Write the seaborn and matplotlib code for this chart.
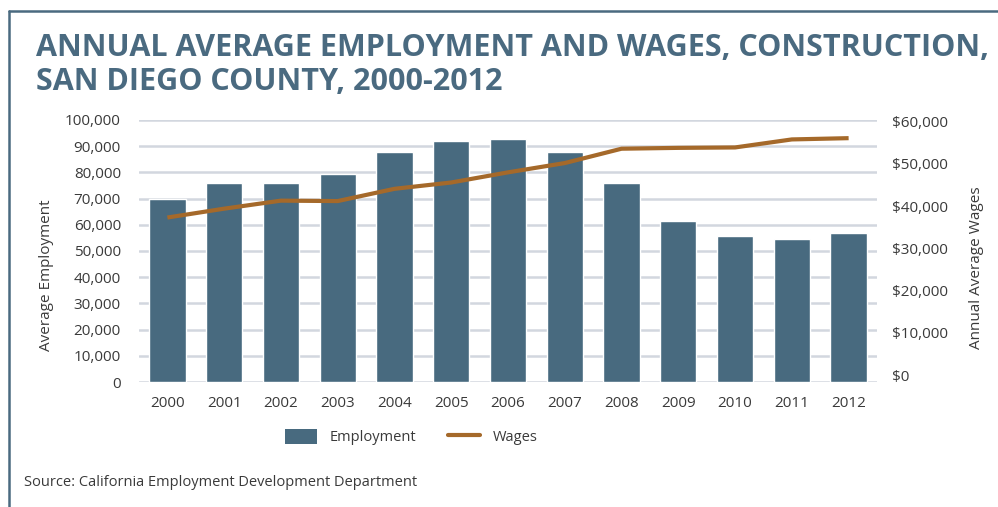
import numpy as np
import pandas as pd
import seaborn as sns
import matplotlib.pyplot as plt
from matplotlib.patches import Patch
from matplotlib.lines import Line2D
from matplotlib.ticker import FuncFormatter, MultipleLocator

# Annual averages, construction sector, San Diego County
years = list(range(2000, 2013))
employment = [70000, 76000, 76000, 79300, 87900, 91800, 92900,
              87900, 76000, 61400, 55700, 54500, 56700]
wages = [37300, 39400, 41300, 41200, 44100, 45600, 48000,
         50200, 53600, 53800, 53900, 55800, 56100]

title_lines = ["ANNUAL AVERAGE EMPLOYMENT AND WAGES, CONSTRUCTION,",
               "SAN DIEGO COUNTY, 2000-2012"]
left_label = "Average Employment"
right_label = "Annual Average Wages"
source_note = "Source: California Employment Development Department"

BAR = "#486a7f"
WAGE = "#a5692a"
GRID = "#d2d7df"
TITLE = "#4a6a80"
TXT = "#3a3a3a"

sns.set_theme(style="white")
plt.rcParams['font.family'] = ['Open Sans', 'DejaVu Sans']

W, H = 998, 507
fig = plt.figure(figsize=(W / 100, H / 100), dpi=100)
ax = fig.add_axes([139 / W, 1 - 382 / H, 738 / W, 262 / H])

df = pd.DataFrame({"year": years, "employment": employment, "wages": wages})

sns.barplot(data=df, x="year", y="employment", native_scale=True,
            color=BAR, saturation=1, width=0.64, errorbar=None, ax=ax)
ax.set_xlim(1999.5, 2012.5)
ax.set_ylim(0, 100000)
ax.yaxis.set_major_locator(MultipleLocator(10000))
ax.yaxis.set_major_formatter(FuncFormatter(lambda v, p: f"{int(v):,}"))
ax.set_xticks(years)
ax.set_xticklabels([str(y) for y in years])
ax.yaxis.grid(True, color=GRID, linewidth=1.8)
ax.set_axisbelow(True)
ax.set_xlabel("")
ax.set_ylabel("")
ax.tick_params(axis="y", length=0, pad=13, labelsize=11, labelcolor=TXT)
ax.tick_params(axis="x", length=0, pad=10, labelsize=11, labelcolor=TXT)
for s in ax.spines.values():
    s.set_visible(False)

ax2 = ax.twinx()
sns.lineplot(data=df, x="year", y="wages", color=WAGE, linewidth=3,
             legend=False, ax=ax2)
for ln in ax2.lines:
    ln.set_solid_capstyle("butt")
    ln.set_solid_joinstyle("round")
ax2.set_ylim(-1650, 60400)
ax2.set_yticks(np.arange(0, 60001, 10000))
ax2.yaxis.set_major_formatter(FuncFormatter(lambda v, p: f"${int(v):,}"))
ax2.grid(False)
ax2.set_ylabel("")
ax2.tick_params(axis="y", length=0, pad=11, labelsize=11, labelcolor=TXT)
for s in ax2.spines.values():
    s.set_visible(False)

fig.text(47 / W, 1 - 275 / H, left_label, rotation=90, ha="center",
         va="center", fontsize=11, color=TXT)
fig.text(977 / W, 1 - 268 / H, right_label, rotation=90, ha="center",
         va="center", fontsize=11, color=TXT)

fig.text(36 / W, 1 - 56 / H, title_lines[0], fontsize=22,
         fontweight="bold", color=TITLE, va="baseline", ha="left")
fig.text(36 / W, 1 - 90 / H, title_lines[1], fontsize=22,
         fontweight="bold", color=TITLE, va="baseline", ha="left")

handles = [Patch(facecolor=BAR, edgecolor="none", label="Employment"),
           Line2D([], [], color=WAGE, linewidth=3, label="Wages")]
fig.legend(handles=handles, loc="center", bbox_to_anchor=(411 / W, 1 - 437 / H),
           ncol=2, frameon=False, fontsize=10.5, handlelength=2.2,
           handleheight=1.22, handletextpad=0.85, columnspacing=2.2,
           labelcolor=TXT)

fig.text(24 / W, 1 - 482 / H, source_note, fontsize=10.5, color=TXT,
         ha="left", va="center")

# Frame along the top and left edges
fig.add_artist(Line2D([9 / W, 1], [1 - 11 / H, 1 - 11 / H],
                      transform=fig.transFigure, color=TITLE, linewidth=1.8))
fig.add_artist(Line2D([9 / W, 9 / W], [0, 1 - 11 / H],
                      transform=fig.transFigure, color=TITLE, linewidth=1.8))

fig.savefig("out.png", dpi=100)
